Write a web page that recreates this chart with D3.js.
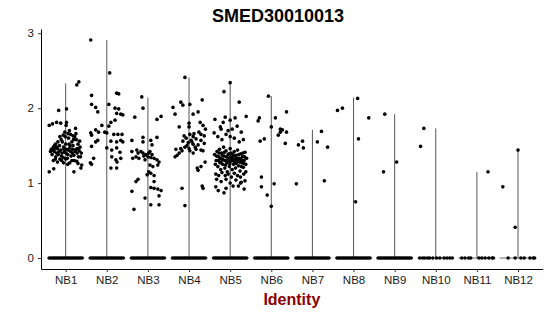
<!DOCTYPE html>
<meta charset="utf-8">
<html>
<head>
<style>
  body { margin: 0; background: #fff; }
  svg { display: block; }
  .tick text { font-family: "Liberation Sans", Arial, sans-serif; font-size: 11.5px; fill: #1a1a1a; }
</style>
<script src="https://d3js.org/d3.v7.min.js"></script>
</head>
<body>
<svg width="550" height="316"></svg>
<script>
var groups = ["NB1","NB2","NB3","NB4","NB5","NB6","NB7","NB8","NB9","NB10","NB11","NB12"];
var maxValues = [2.33, 2.91, 2.14, 2.41, 2.34, 2.16, 1.71, 2.14, 1.92, 1.73, 1.15, 1.45];
var yTicks = [0, 1, 2, 3];

// non-zero cells, [jitter offset in band units, expression]
var nb1 = [[0.32,2.35],[0.27,2.31],[-0.17,1.97],[0.02,1.99],[-0.4,1.77],[-0.32,1.79],[-0.22,1.81],[-0.12,1.80],[0.02,1.81],[0.01,1.77],[0.24,1.73],
  [-0.4,1.15],[-0.29,1.19],[0.2,1.15],[0.37,1.2],[0.39,1.24],[0.27,1.29],
  [-0.35,1.45],[-0.3,1.48],[-0.28,1.42],[-0.25,1.52],[-0.22,1.40],[-0.2,1.46],[-0.18,1.38],[-0.15,1.50],[-0.12,1.44],[-0.1,1.36],[-0.08,1.55],[-0.05,1.48],[-0.03,1.41],[0.0,1.52],[0.02,1.45],[0.05,1.38],[0.07,1.60],[0.1,1.47],[0.12,1.42],[0.15,1.55],[0.18,1.50],[0.2,1.37],[0.22,1.62],[0.25,1.45],[0.28,1.40],[0.3,1.52],[0.33,1.43],[0.36,1.35],
  [-0.33,1.38],[-0.27,1.50],[-0.24,1.35],[-0.19,1.55],[-0.14,1.32],[-0.11,1.58],[-0.06,1.34],[-0.01,1.62],[0.04,1.33],[0.08,1.52],[0.13,1.36],[0.17,1.45],[0.21,1.30],[0.26,1.58],[0.31,1.35],[0.35,1.48],
  [-0.37,1.42],[-0.31,1.44],[-0.26,1.46],[-0.21,1.48],[-0.16,1.42],[-0.09,1.40],[-0.04,1.45],[0.01,1.40],[0.06,1.44],[0.11,1.50],[0.16,1.40],[0.19,1.58],[0.23,1.42],[0.29,1.46],[0.34,1.56],[0.38,1.40],
  [-0.02,1.68],[0.06,1.66],[0.12,1.65],[0.18,1.63],[-0.06,1.64],[0.09,1.70],[-0.14,1.62],[0.25,1.66],
  [-0.3,1.30],[-0.2,1.28],[-0.1,1.30],[0.0,1.32],[0.1,1.27],[0.05,1.25],[-0.05,1.27],[0.15,1.30],[0.3,1.26],[-0.25,1.32]];
var nb2 = [[-0.39,2.91],[0.07,2.47],[0.24,2.2],[0.29,2.19],[-0.37,2.17],[-0.37,2.05],[-0.27,2.01],[-0.22,1.95],[0.05,2.05],[0.2,2.0],[0.29,1.99],[0.24,1.93],[0.34,1.92],[0.39,1.91],[0.2,1.84],[0.1,1.81],[0.05,1.76],[-0.12,1.77],[-0.27,1.71],[-0.2,1.68],[-0.05,1.68],[0,1.67],[-0.39,1.67],[-0.37,1.64],[0.17,1.65],[0.27,1.65],[0.37,1.65],[-0.22,1.57],[-0.27,1.55],[0.1,1.56],[0.34,1.57],[0.24,1.55],[0.39,1.55],[-0.37,1.49],[0,1.47],[0.12,1.44],[0.32,1.41],[0.24,1.47],[0.12,1.35],[0.22,1.31],[0.34,1.33],[-0.32,1.33],[-0.37,1.25],[0.1,1.2],[0.24,1.2],[-0.4,1.27],[0.25,1.28]];
var nb3 = [[-0.15,2.15],[-0.12,2.0],[-0.32,1.88],[0.22,1.85],[0.32,1.89],[-0.39,1.57],[-0.12,1.61],[-0.12,1.55],[0.07,1.57],[0.1,1.51],[0.22,1.61],
  [-0.39,1.42],[-0.24,1.40],[-0.17,1.42],[-0.12,1.40],[-0.05,1.38],[0.02,1.40],[-0.29,1.35],[-0.37,1.33],[-0.22,1.33],[-0.07,1.31],[0,1.35],[0.07,1.34],[0.15,1.33],[0.22,1.31],[0.27,1.28],[0.24,1.24],[0.12,1.22],[0.05,1.24],[0.02,1.15],[-0.02,1.11],[0.07,1.13],[0.15,1.10],[-0.29,1.02],[-0.24,1.05],[-0.39,0.89],[0.15,1.02],[0.07,0.94],[0.15,0.93],[0.24,0.92],[0.32,0.90],[0.27,0.83],[-0.07,0.80],[0.07,0.71],[0.27,0.71],[-0.34,0.65],
  [-0.27,1.44],[-0.1,1.36],[0.1,1.38],[0.05,1.42]];
var nb4 = [[-0.1,2.41],[-0.2,2.08],[-0.15,2.04],[0.02,2.05],[0.32,2.11],[-0.39,2.01],[-0.34,1.92],[0.22,1.95],[0.1,1.92],[0.27,1.81],[0.34,1.77],[0.4,1.72],[-0.24,1.75],[0,1.8],[0,1.75],
  [-0.12,1.63],[-0.07,1.60],[-0.15,1.56],[0.02,1.65],[0.1,1.62],[0.12,1.66],[0.24,1.68],[0.29,1.65],[0.37,1.63],[0.05,1.57],[0.17,1.59],[0.29,1.57],[0.37,1.53],[-0.02,1.54],[0.1,1.52],[0.22,1.51],[-0.1,1.48],[-0.2,1.46],[-0.32,1.45],[-0.17,1.43],[0,1.46],[0.02,1.43],[0.1,1.40],[0.17,1.45],[0.29,1.44],[0.34,1.43],[-0.29,1.37],[-0.24,1.40],[0.39,1.28],[0.29,1.22],[0.22,1.17],[0.32,0.96],[0.34,0.93],[-0.17,0.93],[-0.1,0.70],
  [-0.34,1.35],[0.2,1.2],[-0.05,1.5],[0.07,1.55],[0.15,1.48]];
var nb5 = [[0,2.34],[-0.15,2.22],[0.22,2.08],[0.39,1.89],
  [-0.37,1.85],[-0.12,1.88],[-0.17,1.81],[0.0,1.84],[0.12,1.87],[-0.24,1.75],[-0.22,1.72],[-0.39,1.67],[-0.05,1.70],[0.05,1.72],[0.17,1.76],[0.27,1.68],[-0.3,1.62],[-0.1,1.65],[0.1,1.6],[0.32,1.58],[-0.2,1.58],[0.0,1.62],[0.22,1.55],
  [-0.38,1.38],[-0.34,1.30],[-0.32,1.42],[-0.3,1.22],[-0.28,1.35],[-0.26,1.45],[-0.25,1.27],[-0.23,1.18],[-0.21,1.40],[-0.2,1.32],[-0.18,1.25],[-0.16,1.48],[-0.15,1.36],[-0.13,1.20],[-0.12,1.30],[-0.1,1.43],[-0.08,1.27],[-0.07,1.15],[-0.05,1.38],[-0.04,1.33],[-0.02,1.22],[0.0,1.46],[0.01,1.29],[0.03,1.40],[0.05,1.18],[0.06,1.34],[0.08,1.25],[0.1,1.42],[0.11,1.31],[0.13,1.20],[0.15,1.37],[0.17,1.28],[0.18,1.44],[0.2,1.23],[0.22,1.33],[0.24,1.16],[0.26,1.39],[0.28,1.27],[0.3,1.35],[0.32,1.21],[0.34,1.30],[0.36,1.41],[0.38,1.25],[0.4,1.33],
  [-0.36,1.25],[-0.33,1.36],[-0.29,1.30],[-0.27,1.40],[-0.24,1.33],[-0.22,1.28],[-0.19,1.37],[-0.17,1.31],[-0.14,1.41],[-0.11,1.24],[-0.09,1.35],[-0.06,1.30],[-0.03,1.39],[-0.01,1.26],[0.02,1.35],[0.04,1.31],[0.07,1.38],[0.09,1.29],[0.12,1.36],[0.14,1.26],[0.16,1.33],[0.19,1.30],[0.21,1.38],[0.23,1.28],[0.25,1.32],[0.27,1.22],[0.29,1.30],[0.31,1.40],[0.33,1.26],[0.35,1.35],
  [-0.35,1.12],[-0.28,1.10],[-0.2,1.14],[-0.12,1.10],[-0.05,1.12],[0.03,1.08],[0.1,1.13],[0.18,1.10],[0.25,1.08],[0.33,1.12],[0.38,1.15],
  [-0.33,1.05],[-0.22,1.02],[-0.1,1.05],[0.0,1.00],[0.14,1.04],[0.25,1.0],[0.36,1.03],
  [-0.29,0.90],[-0.15,0.87],[-0.1,0.93],[0.07,0.96],[0.2,0.96],[0.27,1.01],[-0.35,0.95],[0.34,0.92]];
var nb6 = [[-0.07,2.16],[0.37,1.95],[-0.29,1.87],[-0.32,1.83],[0.1,1.87],[0,1.75],[0.22,1.72],[0.27,1.71],[0.22,1.68],[0.37,1.68],[0.17,1.64],[0.34,1.53],[-0.27,1.56],[-0.17,1.59],[-0.24,1.08],[-0.24,0.95],[0.07,0.99],[-0.1,0.84],[0,0.69]];
var nb7 = [[-0.34,1.51],[-0.24,1.56],[-0.22,1.47],[0.22,1.69],[0.12,1.55],[0.37,1.48],[-0.39,0.99],[0.29,1.03]];
var nb8 = [[-0.39,1.97],[-0.27,2.0],[0.1,2.13],[0.37,1.87],[0.12,1.59],[0.05,0.75]];
var nb9 = [[-0.24,1.92],[0.05,1.28],[-0.27,1.15]];
var nb10 = [[-0.29,1.73],[-0.37,1.49]];
var nb11 = [[0.27,1.15]];
var nb12 = [[0,1.44],[-0.37,0.95],[-0.07,0.41]];
var nonZero = [nb1, nb2, nb3, nb4, nb5, nb6, nb7, nb8, nb9, nb10, nb11, nb12];

// zero cells, jitter offsets only
var zeroDense = [-0.4,-0.36,-0.32,-0.28,-0.24,-0.2,-0.16,-0.12,-0.08,-0.04,0,0.04,0.08,0.12,0.16,0.2,0.24,0.28,0.32,0.36,0.4];
var zero10 = [-0.39,-0.32,-0.27,-0.2,-0.15,-0.07,0.02,0.1,0.2,0.27,0.34,0.4];
var zero11 = [-0.37,-0.29,-0.2,-0.15,0.05,0.12,0.2,0.29,0.37,0.4];
var zero12 = [-0.24,-0.07,0.07,0.15,0.29,0.37,0.4];
var zeros = [zeroDense, zeroDense, zeroDense, zeroDense, zeroDense, zeroDense, zeroDense, zeroDense, zeroDense, zero10, zero11, zero12];

var margin = {left: 41, right: 542.7, top: 29, bottom: 269};
var dotR = 1.8;
var svg = d3.select("svg");

var x = d3.scalePoint().domain(groups).range([margin.left, margin.right]).padding(0.6);
var step = x.step();
var y = d3.scaleLinear().domain([-0.146, 3.056]).range([margin.bottom, margin.top]);

// violins (collapsed to thin outlines)
var g = svg.append("g");
groups.forEach(function(name, i) {
  var cx = x(name);
  g.append("line")
    .attr("x1", cx).attr("x2", cx)
    .attr("y1", y(0)).attr("y2", y(maxValues[i]))
    .attr("stroke", "#444").attr("stroke-width", 0.9);
  g.append("line")
    .attr("x1", cx - 0.45 * step).attr("x2", cx + 0.45 * step)
    .attr("y1", y(0)).attr("y2", y(0))
    .attr("stroke", "#444").attr("stroke-width", 0.8);
});

// jittered points
groups.forEach(function(name, i) {
  var cx = x(name);
  g.selectAll(null).data(zeros[i]).enter().append("circle")
    .attr("cx", function(d) { return cx + d * step; })
    .attr("cy", y(0))
    .attr("r", dotR).attr("fill", "#000");
  g.selectAll(null).data(nonZero[i]).enter().append("circle")
    .attr("cx", function(d) { return cx + d[0] * step; })
    .attr("cy", function(d) { return y(d[1]); })
    .attr("r", dotR).attr("fill", "#000");
});

var xAxis = d3.axisBottom(x).tickSize(3).tickSizeOuter(0).tickPadding(4);
svg.append("g")
  .attr("transform", "translate(0," + margin.bottom + ")")
  .call(xAxis)
  .call(function(a) { a.select(".domain").attr("stroke", "#000"); a.selectAll(".tick line").attr("stroke", "#333"); });

var yAxis = d3.axisLeft(y).tickValues(yTicks).tickFormat(d3.format("d")).tickSize(3).tickSizeOuter(0).tickPadding(4);
svg.append("g")
  .attr("transform", "translate(" + margin.left + ",0)")
  .call(yAxis)
  .call(function(a) { a.select(".domain").attr("stroke", "#000"); a.selectAll(".tick line").attr("stroke", "#333"); });

svg.append("text")
  .attr("x", 278).attr("y", 22)
  .attr("text-anchor", "middle")
  .style("font-family", "Liberation Sans, Arial, sans-serif")
  .style("font-weight", "bold").style("font-size", "18px")
  .text("SMED30010013");

svg.append("text")
  .attr("x", (margin.left + margin.right) / 2).attr("y", 305)
  .attr("text-anchor", "middle")
  .style("font-family", "Liberation Sans, Arial, sans-serif")
  .style("font-weight", "bold").style("font-size", "16px")
  .attr("fill", "#8B0000")
  .text("Identity");
</script>
</body>
</html>
